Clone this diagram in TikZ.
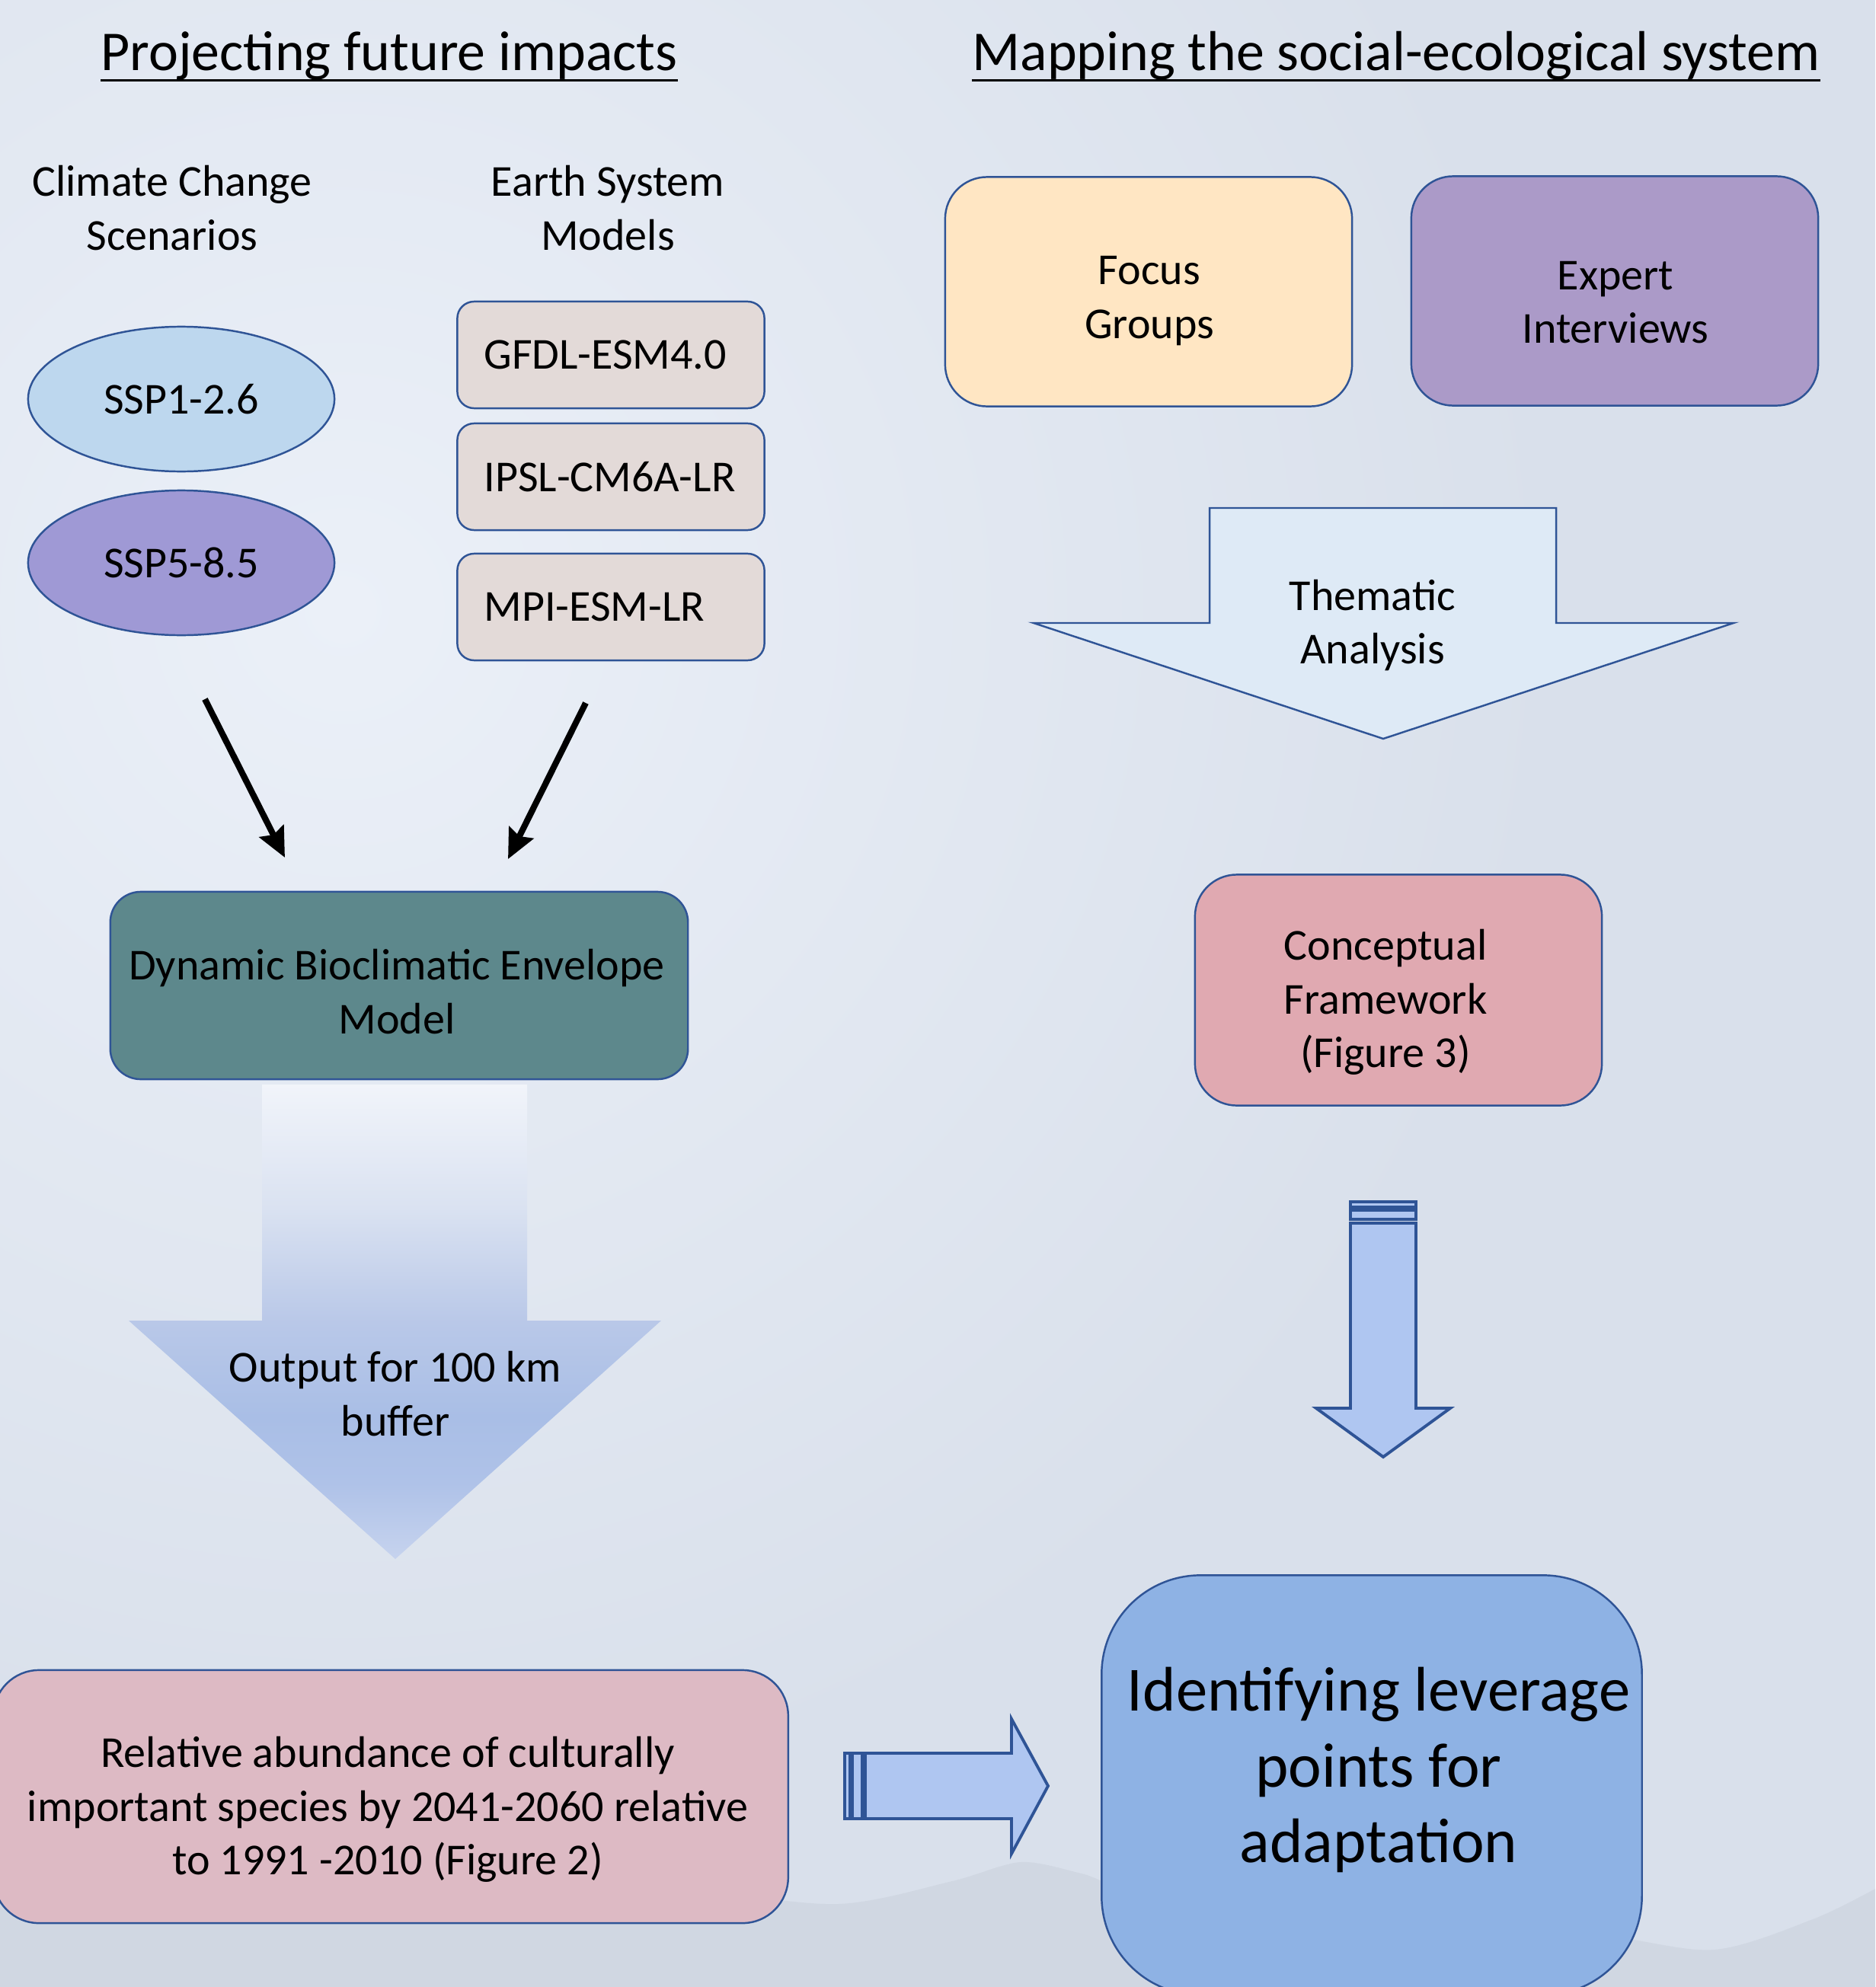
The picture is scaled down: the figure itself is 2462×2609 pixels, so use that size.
\documentclass[tikz,border=0pt]{standalone}
\usepackage{fontspec}
\setmainfont{Carlito}
\usetikzlibrary{shapes.geometric,arrows.meta}

\definecolor{bgbase}{HTML}{D9E0EB}
\definecolor{bgglow}{HTML}{EBF0F8}
\definecolor{mtn}{HTML}{C9D0DB}
\definecolor{edgeblue}{HTML}{2F5496}
\definecolor{ssponefill}{HTML}{BDD7EE}
\definecolor{sspfivefill}{HTML}{9F99D5}
\definecolor{esmfill}{HTML}{E3DAD8}
\definecolor{dbemfill}{HTML}{5D888C}
\definecolor{focusfill}{HTML}{FFE6C3}
\definecolor{expertfill}{HTML}{AB9AC8}
\definecolor{themafill}{HTML}{DEEAF6}
\definecolor{concfill}{HTML}{E0A9B1}
\definecolor{relfill}{HTML}{DDBAC4}
\definecolor{levfill}{HTML}{8EB2E4}
\definecolor{arrowfill}{HTML}{AFC6F1}
\definecolor{outtop}{HTML}{F1F4FA}
\definecolor{outmidA}{HTML}{DAE2F1}
\definecolor{outmidB}{HTML}{B9C8E8}
\definecolor{outdark}{HTML}{A9BEE6}
\definecolor{outlow}{HTML}{AFC2E8}
\definecolor{outtip}{HTML}{C6D3EE}

\pgfdeclareverticalshading{outshade}{100bp}{color(0bp)=(outtip); color(25bp)=(outtip);
  color(33bp)=(outlow); color(40bp)=(outdark); color(50bp)=(outmidB);
  color(62bp)=(outmidA); color(75bp)=(outtop); color(100bp)=(outtop)}

\newcommand{\bodyfont}{\fontsize{16.5}{20}\selectfont}
\newcommand{\ttlfont}{\fontsize{21}{25}\selectfont}
\newcommand{\levfont}{\fontsize{23.5}{28.2}\selectfont}

\tikzset{
  ttl/.style={anchor=base,inner sep=0pt,font=\ttlfont},
  ttlrule/.style={line width=0.85pt},
  hdr/.style={align=center,font=\bodyfont},
  ssp/.style={ellipse,draw=edgeblue,line width=0.7pt,minimum width=4.02cm,minimum height=1.90cm,inner sep=0pt,font=\bodyfont},
  esmbox/.style={draw=edgeblue,line width=0.7pt,rounded corners=0.22cm,fill=esmfill,minimum width=4.03cm,minimum height=1.40cm,text width=3.33cm,inner xsep=0.35cm,align=left,font=\bodyfont},
  roundbox/.style={draw=edgeblue,line width=0.7pt,inner sep=0pt},
  blackarrow/.style={line width=2.3pt,-{Stealth[length=11pt,width=10pt,inset=1.5pt]}},
  blockarrow/.style={draw=edgeblue,line width=1.1pt,fill=arrowfill,line join=miter},
  thinarrow/.style={draw=edgeblue,line width=0.7pt,fill=themafill},
  plaintext/.style={align=center,font=\bodyfont}
}

\begin{document}
\begin{tikzpicture}[x=0.01cm,y=-0.01cm]
  \clip (0,0) rectangle (2462,2609);
  % background
  \fill[bgbase] (0,0) rectangle (2462,2609);
  \shade[inner color=bgglow,outer color=bgbase] (450,800) circle (16cm);
  \fill[mtn,opacity=0.5] plot[smooth] coordinates {(0,2500) (300,2490) (600,2472) (900,2482) (1100,2500) (1250,2470) (1340,2445) (1420,2460) (1500,2482) (1800,2505) (2100,2540) (2250,2560) (2380,2520) (2462,2480)}
    -- (2462,2609) -- (0,2609) -- cycle;

  % titles
  \node[ttl] (ttlL) at (511,93) {Projecting future impacts};
  \node[ttl] (ttlR) at (1833,93) {Mapping the social-ecological system};
  \draw[ttlrule] ([yshift=-3.5pt]ttlL.base west) -- ([yshift=-3.5pt]ttlL.base east);
  \draw[ttlrule] ([yshift=-3.5pt]ttlR.base west) -- ([yshift=-3.5pt]ttlR.base east);

  % left column
  \node[hdr] (hdrCC) at (226,273) {Climate Change\\Scenarios};
  \node[hdr] (hdrESM) at (798,273) {Earth System\\Models};

  \node[ssp,fill=ssponefill] (ssp1) at (238,524) {SSP1-2.6};
  \node[ssp,fill=sspfivefill] (ssp5) at (238,739) {SSP5-8.5};

  \node[esmbox] (gfdl) at (802,466) {GFDL-ESM4.0};
  \node[esmbox] (ipsl) at (802,626) {IPSL-CM6A-LR};
  \node[esmbox] (mpi) at (802,797) {MPI-ESM-LR};

  \coordinate (ccS) at (269,918);
  \coordinate (dbemL) at (374,1126);
  \coordinate (esmS) at (769,923);
  \coordinate (dbemR) at (667,1128);
  \draw[blackarrow] (ccS) -- (dbemL);
  \draw[blackarrow] (esmS) -- (dbemR);

  \node[roundbox,fill=dbemfill,rounded corners=0.4cm,minimum width=7.58cm,minimum height=2.46cm] (dbem) at (524,1294) {};
  \node[plaintext] (dbemtxt) at (521,1302) {Dynamic Bioclimatic Envelope\\Model};

  \shade[shading=outshade] (344,1424) -- (692,1424) -- (692,1734) -- (868,1734) -- (519,2047) -- (169,1734) -- (344,1734) -- cycle;
  \node[plaintext] (outp) at (519,1830) {Output for 100 km\\buffer};

  \node[roundbox,fill=relfill,rounded corners=0.6cm,minimum width=10.43cm,minimum height=3.32cm] (relab) at (513,2359) {};
  \node[plaintext] (relabtxt) at (509,2376) {Relative abundance of culturally\\important species by 2041-2060 relative\\to 1991 -2010 (Figure 2)};

  % arrow to leverage points
  \draw[blockarrow] (1109,2302) rectangle (1116,2388);
  \draw[blockarrow] (1119,2302) rectangle (1132,2388);
  \draw[blockarrow] (1136,2302) -- (1328,2302) -- (1328,2257) -- (1376,2345) -- (1328,2434) -- (1328,2388) -- (1136,2388) -- cycle;

  % right column
  \node[roundbox,fill=focusfill,rounded corners=0.55cm,minimum width=5.34cm,minimum height=3.01cm] (focus) at (1508,383) {};
  \node[plaintext] (focustxt) at (1509,395) {Focus\\Groups};
  \node[roundbox,fill=expertfill,rounded corners=0.55cm,minimum width=5.34cm,minimum height=3.01cm] (expert) at (2120,382) {};
  \node[plaintext] (experttxt) at (2121,397) {Expert\\Interviews};

  \draw[thinarrow] (1588,667) -- (2043,667) -- (2043,818) -- (2276,818) -- (1816,970) -- (1357,818) -- (1588,818) -- cycle;
  \node[plaintext] (thema) at (1802,821) {Thematic\\Analysis};

  \node[roundbox,fill=concfill,rounded corners=0.55cm,minimum width=5.34cm,minimum height=3.03cm] (concfw) at (1836,1300) {};
  \node[plaintext] (concfwtxt) at (1819,1316) {Conceptual\\Framework\\(Figure 3)};

  \draw[blockarrow] (1773,1578) rectangle (1859,1585);
  \draw[blockarrow] (1773,1589) rectangle (1859,1601);
  \draw[blockarrow] (1773,1606) -- (1859,1606) -- (1859,1849) -- (1904,1849) -- (1816,1913) -- (1728,1849) -- (1773,1849) -- cycle;

  \node[roundbox,fill=levfill,rounded corners=1.3cm,minimum width=7.09cm,minimum height=5.51cm] (lev) at (1801,2344) {};
  \node[plaintext,font=\levfont] (levtxt) at (1810,2324) {Identifying leverage\\points for\\adaptation};
\end{tikzpicture}
\end{document}
